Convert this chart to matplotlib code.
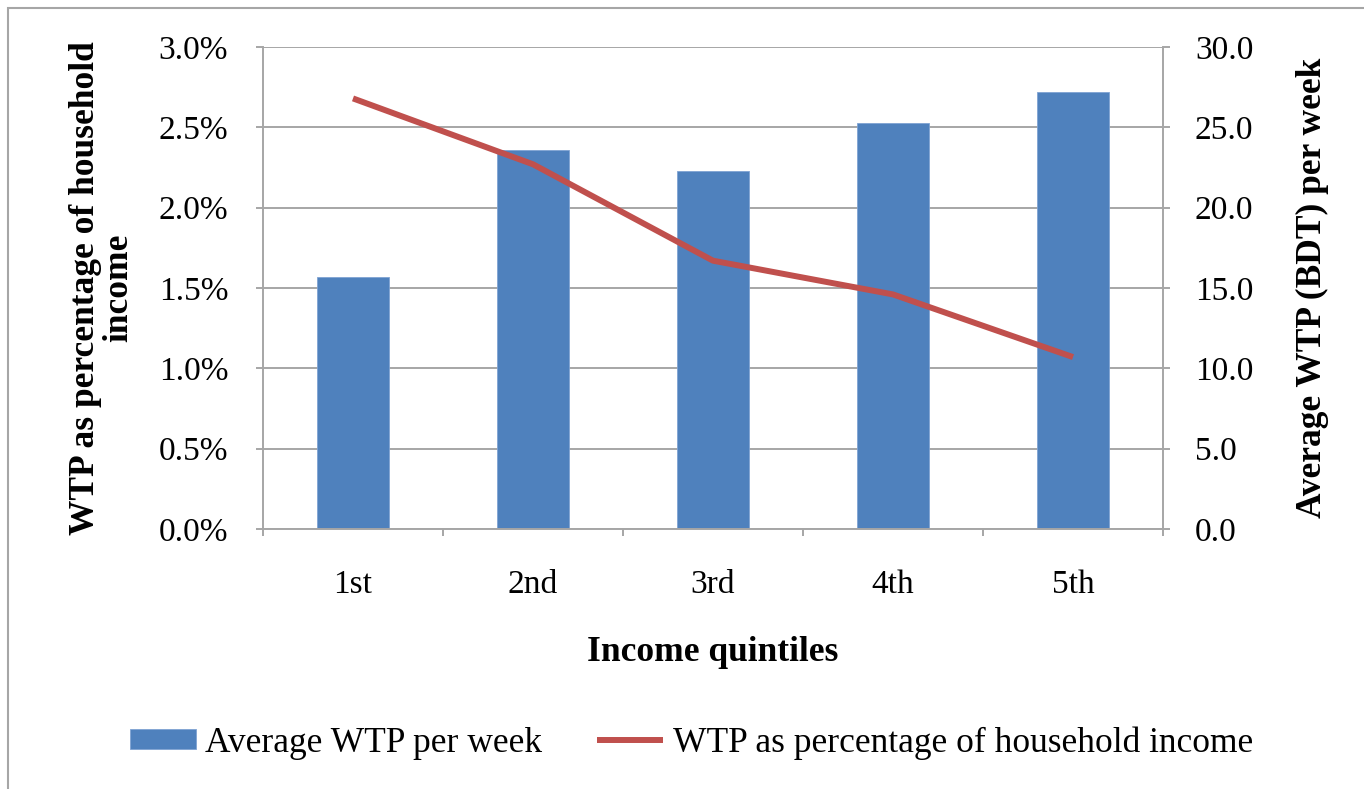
import matplotlib
matplotlib.use("Agg")
import matplotlib.pyplot as plt
from matplotlib.patches import Rectangle
from matplotlib.ticker import FuncFormatter, FixedLocator

# values
quintiles = ["1st", "2nd", "3rd", "4th", "5th"]
avg_wtp_week = [15.7, 23.6, 22.3, 25.3, 27.2]     # BDT, right axis (bars)
wtp_pct_income = [2.68, 2.27, 1.67, 1.46, 1.07]   # percent, left axis (line)

BLUE = "#4F81BD"
RED = "#C0504D"
GREY = "#A6A6A6"
FS = 24
FS_BIG = 25.5

plt.rcParams["font.family"] = ["Liberation Serif", "DejaVu Serif"]

fig = plt.figure(figsize=(13.64, 7.89), dpi=100)
ax = fig.add_axes([263 / 1364, 1 - 529 / 789, 900 / 1364, 482 / 789])
ax2 = ax.twinx()

x = list(range(len(quintiles)))

# bars live on the right axis, drawn behind the line
bars = ax2.bar(x, avg_wtp_week, width=0.4, color=BLUE, edgecolor="#7FA3D3",
               linewidth=0.6, label="Average WTP per week", zorder=2)
ax2.set_ylim(0, 30)
ax2.set_yticks([0, 5, 10, 15, 20, 25, 30])
ax2.yaxis.set_major_formatter(FuncFormatter(lambda v, p: f"{v:.1f}"))
ax2.grid(axis="y", color=GREY, linewidth=1.4, zorder=0)
ax2.set_axisbelow(True)

line, = ax.plot(x, wtp_pct_income, color=RED, linewidth=4.3,
                solid_capstyle="butt", label="WTP as percentage of household income")
ax.set_ylim(0, 3.0)
ax.set_yticks([0, 0.5, 1.0, 1.5, 2.0, 2.5, 3.0])
ax.yaxis.set_major_formatter(FuncFormatter(lambda v, p: f"{v:.1f}%"))
ax.set_zorder(ax2.get_zorder() + 1)
ax.patch.set_visible(False)

ax.set_xlim(-0.5, len(quintiles) - 0.5)
ax.set_xticks(x)
ax.set_xticklabels(quintiles)
ax.xaxis.set_minor_locator(FixedLocator([i - 0.5 for i in range(len(quintiles) + 1)]))
ax.tick_params(axis="x", which="major", length=0, labelsize=FS, pad=29)
ax.tick_params(axis="x", which="minor", length=5, width=1.4, color=GREY, direction="out")
ax.tick_params(axis="y", length=5, width=1.4, color=GREY, labelsize=FS, pad=20)
ax2.tick_params(axis="y", length=5, width=1.4, color=GREY, labelsize=FS, pad=18)

for a in (ax, ax2):
    a.spines["top"].set_visible(False)
    for s in ("left", "right", "bottom"):
        a.spines[s].set_color(GREY)
        a.spines[s].set_linewidth(1.4)
ax2.spines["bottom"].set_visible(False)
ax.spines["right"].set_visible(False)
ax2.spines["left"].set_visible(False)

ax.set_xlabel("Income quintiles", fontsize=FS_BIG, fontweight="bold")
ax.xaxis.set_label_coords(0.5, -0.222)
ax.set_ylabel("WTP as percentage of household\nincome", fontsize=FS_BIG,
              fontweight="bold", linespacing=1.0)
ax.yaxis.set_label_coords(-0.142, 0.5)
ax2.set_ylabel("Average WTP (BDT) per week", fontsize=FS_BIG, fontweight="bold")
ax2.yaxis.set_label_coords(1.148, 0.5)

fig.legend([bars, line], [bars.get_label(), line.get_label()], loc="center",
           bbox_to_anchor=(0.507, 1 - 743 / 789), ncol=2, frameon=False,
           fontsize=FS_BIG, handlelength=1.85, handleheight=0.5, handletextpad=0.28,
           columnspacing=1.55)

fig.patches.append(Rectangle((8 / 1364, -0.05), 1.1, 1.05 - 8 / 789,
                             transform=fig.transFigure, fill=False,
                             edgecolor=GREY, linewidth=1.5))

fig.savefig("out.png", dpi=100)
